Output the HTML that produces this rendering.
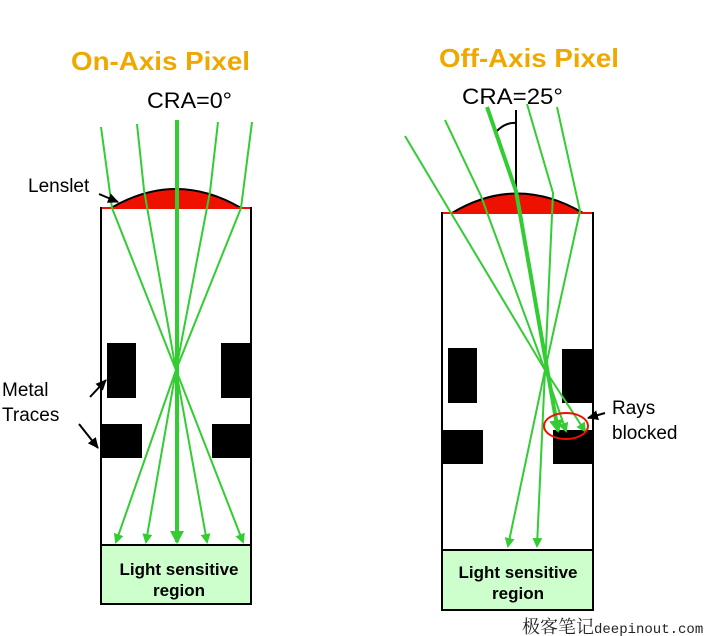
<!DOCTYPE html>
<html><head><meta charset="utf-8"><style>body{margin:0;background:#fff}svg{display:block}</style></head>
<body>
<svg width="710" height="636" viewBox="0 0 710 636" xmlns="http://www.w3.org/2000/svg" font-family="Liberation Sans, Arial, sans-serif">
<defs>
<marker id="ga" markerWidth="10" markerHeight="10" refX="8" refY="5" orient="auto" markerUnits="userSpaceOnUse"><path d="M0,0 L10,5 L0,10 Z" fill="#33cc33"/></marker>
<marker id="gb" markerWidth="14" markerHeight="14" refX="11" refY="7" orient="auto" markerUnits="userSpaceOnUse"><path d="M0,0 L13,7 L0,14 Z" fill="#33cc33"/></marker>
<marker id="ka" markerWidth="12" markerHeight="12" refX="10" refY="6" orient="auto" markerUnits="userSpaceOnUse"><path d="M0,1 L11,6 L0,11 Z" fill="#000"/></marker>
</defs>
<text x="71" y="70" font-size="26" font-weight="bold" fill="#f0a800" textLength="179" lengthAdjust="spacingAndGlyphs">On-Axis Pixel</text>
<text x="439" y="67" font-size="26" font-weight="bold" fill="#f0a800" textLength="180" lengthAdjust="spacingAndGlyphs">Off-Axis Pixel</text>
<text x="147" y="108" font-size="22" fill="#000" textLength="85" lengthAdjust="spacingAndGlyphs">CRA=0°</text>
<text x="462" y="104" font-size="22" fill="#000" textLength="101" lengthAdjust="spacingAndGlyphs">CRA=25°</text>

<rect x="101" y="208" width="150" height="337" fill="#fff" stroke="#000" stroke-width="2"/>
<path d="M111,208 Q176,170 241,208 Z" fill="#ee1100" stroke="#000" stroke-width="2"/>
<line x1="102" y1="208" x2="250" y2="208" stroke="#ee1100" stroke-width="2"/>
<rect x="107" y="343" width="29" height="55" fill="#000"/>
<rect x="221" y="343" width="30" height="55" fill="#000"/>
<rect x="101" y="424" width="41" height="34" fill="#000"/>
<rect x="212" y="424" width="39" height="34" fill="#000"/>
<rect x="101" y="545" width="150" height="59" fill="#ccffcc" stroke="#000" stroke-width="2"/>
<text x="179" y="575" font-size="17" font-weight="bold" text-anchor="middle">Light sensitive</text>
<text x="179" y="596" font-size="17" font-weight="bold" text-anchor="middle">region</text>
<g stroke="#33cc33" fill="none" stroke-width="2">
<polyline points="101,127 112,208 176,370 116,542" marker-end="url(#ga)"/>
<polyline points="137,124 144,190 176,370 146,542" marker-end="url(#ga)"/>
<polyline points="218,122 210,192 176,370 207,542" marker-end="url(#ga)"/>
<polyline points="252,122 241,208 176,370 243,542" marker-end="url(#ga)"/>
<line x1="177" y1="120" x2="177" y2="542" stroke-width="4" marker-end="url(#gb)"/>
</g>
<text x="28" y="192" font-size="19">Lenslet</text>
<line x1="99" y1="194" x2="118" y2="202" stroke="#000" stroke-width="2" marker-end="url(#ka)"/>
<text x="2" y="396" font-size="19">Metal</text>
<text x="2" y="421" font-size="19">Traces</text>
<line x1="90" y1="397" x2="106" y2="380" stroke="#000" stroke-width="2" marker-end="url(#ka)"/>
<line x1="79" y1="424" x2="98" y2="448" stroke="#000" stroke-width="2" marker-end="url(#ka)"/>

<rect x="442" y="213" width="151" height="337" fill="#fff" stroke="#000" stroke-width="2"/>
<path d="M452,213 Q517,174 583,213 Z" fill="#ee1100" stroke="#000" stroke-width="2"/>
<line x1="443" y1="213" x2="592" y2="213" stroke="#ee1100" stroke-width="2"/>
<line x1="516" y1="110" x2="516" y2="192" stroke="#000" stroke-width="2"/>
<path d="M496,132 Q505,122 516,123" stroke="#000" stroke-width="2" fill="none"/>
<rect x="448" y="348" width="29" height="55" fill="#000"/>
<rect x="562" y="349" width="31" height="54" fill="#000"/>
<rect x="442" y="430" width="41" height="34" fill="#000"/>
<rect x="553" y="430" width="40" height="34" fill="#000"/>
<rect x="442" y="550" width="151" height="60" fill="#ccffcc" stroke="#000" stroke-width="2"/>
<text x="518" y="578" font-size="17" font-weight="bold" text-anchor="middle">Light sensitive</text>
<text x="518" y="599" font-size="17" font-weight="bold" text-anchor="middle">region</text>
<g stroke="#33cc33" fill="none" stroke-width="2">
<polyline points="405,136 451,213 545,370 585,431" marker-end="url(#ga)"/>
<polyline points="445,120 481,196 545,370 566,431" marker-end="url(#ga)"/>
<polyline points="527,104 553,193 545,370 508,546" marker-end="url(#ga)"/>
<polyline points="557,107 580,211 545,370 537,546" marker-end="url(#ga)"/>
<polyline points="487,107 516,191 558,431" stroke-width="4" marker-end="url(#gb)"/>
</g>
<ellipse cx="566" cy="426" rx="22" ry="13" fill="none" stroke="#ee1100" stroke-width="2"/>
<line x1="605" y1="413" x2="588" y2="418" stroke="#000" stroke-width="2" marker-end="url(#ka)"/>
<text x="612" y="414" font-size="19">Rays</text>
<text x="612" y="439" font-size="19">blocked</text>

<text x="522" y="633" font-size="18" font-family="Liberation Mono, 'Noto Serif CJK SC', monospace" fill="#222">极客笔记<tspan font-size="14">deepinout.com</tspan></text>
</svg>
</body></html>
